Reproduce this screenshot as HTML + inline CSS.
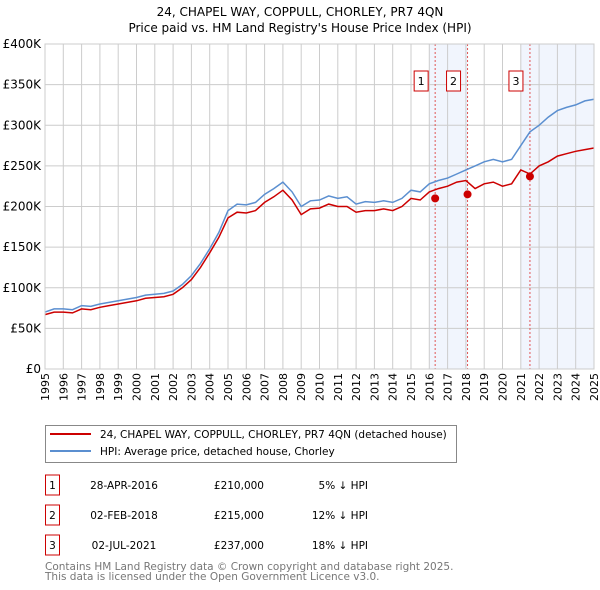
<!DOCTYPE html>
<html><head><meta charset="utf-8"><style>
body{margin:0;background:#fff;font-family:"Liberation Sans","DejaVu Sans",sans-serif;}
#wrap{position:relative;width:600px;height:590px;overflow:hidden;}
text{font-family:"DejaVu Sans","Liberation Sans",sans-serif;}
</style></head><body><div id="wrap">
<svg id="chart" width="600" height="590">
<text x="300" y="16" text-anchor="middle" font-size="12" fill="#000">24, CHAPEL WAY, COPPULL, CHORLEY, PR7 4QN</text>
<text x="300" y="32" text-anchor="middle" font-size="12" fill="#000">Price paid vs. HM Land Registry's House Price Index (HPI)</text>
<g id="plot"></g>
<rect x="45.5" y="425.5" width="411" height="37" fill="#fff" stroke="#888"/>
<line x1="50" y1="434" x2="91" y2="434" stroke="#cc0000" stroke-width="2"/>
<text x="100" y="438" font-size="10.5">24, CHAPEL WAY, COPPULL, CHORLEY, PR7 4QN (detached house)</text>
<line x1="50" y1="451" x2="91" y2="451" stroke="#5b8fd0" stroke-width="2"/>
<text x="100" y="455" font-size="10.5">HPI: Average price, detached house, Chorley</text>
<g id="table" font-size="10.5"></g>
<text x="45" y="570" font-size="10.5" fill="#777">Contains HM Land Registry data © Crown copyright and database right 2025.</text>
<text x="45" y="580" font-size="10.5" fill="#777">This data is licensed under the Open Government Licence v3.0.</text>
</svg>
<script>
const years=[1995,1995.5,1996,1996.5,1997,1997.5,1998,1998.5,1999,1999.5,2000,2000.5,2001,2001.5,2002,2002.5,2003,2003.5,2004,2004.5,2005,2005.5,2006,2006.5,2007,2007.5,2008,2008.5,2009,2009.5,2010,2010.5,2011,2011.5,2012,2012.5,2013,2013.5,2014,2014.5,2015,2015.5,2016,2016.5,2017,2017.5,2018,2018.5,2019,2019.5,2020,2020.5,2021,2021.5,2022,2022.5,2023,2023.5,2024,2024.5,2025];
const hpi=[70,74,74,73,78,77,80,82,84,86,88,91,92,93,96,104,115,130,148,168,195,203,202,205,215,222,230,218,200,207,208,213,210,212,203,206,205,207,205,210,220,218,228,232,235,240,245,250,255,258,255,258,275,292,300,310,318,322,325,330,332];
const price=[67,70,70,69,74,73,76,78,80,82,84,87,88,89,92,100,110,125,143,162,186,193,192,195,205,212,220,208,190,197,198,203,200,200,193,195,195,197,195,200,210,208,218,222,225,230,232,222,228,230,225,228,245,240,250,255,262,265,268,270,272];
const saleYears=[2016.32,2018.09,2021.5];
const saleValues=[210,215,237];
const saleLabels=["1","2","3"];
const saleDates=["28-APR-2016","02-FEB-2018","02-JUL-2021"];
const salePrices=["£210,000","£215,000","£237,000"];
const saleDiffs=["5% ↓ HPI","12% ↓ HPI","18% ↓ HPI"];
const yTicks=[0,50,100,150,200,250,300,350,400];
const yTickLabels=["£0","£50K","£100K","£150K","£200K","£250K","£300K","£350K","£400K"];
const L=45,R=594,T=44,B=369,NS="http://www.w3.org/2000/svg";
const xs=y=>L+(y-1995)/30*(R-L), ys=v=>B-v/400*(B-T);
const g=document.getElementById('plot');
function mk(t,a,p){const e=document.createElementNS(NS,t);for(const k in a)e.setAttribute(k,a[k]);(p||g).appendChild(e);return e;}
let e;
e=mk('rect',{x:xs(2016.02),y:T,width:xs(2018.09)-xs(2016.02),height:B-T,fill:'#eef3fc',opacity:0.8});


e=mk('rect',{x:xs(2021.0),y:T,width:R-xs(2021.0),height:B-T,fill:'#eef3fc',opacity:0.8});


for(let yr=1995;yr<=2025;yr++){
 e=mk('line',{x1:xs(yr),x2:xs(yr),y1:T,y2:B,stroke:'#ccc'});
 
 
 e=mk('text',{x:0,y:0,'font-size':11,'text-anchor':'end',transform:`translate(${xs(yr)+4},${B+4}) rotate(-90)`});
 e.textContent=yr;
 
 
}
yTicks.forEach((v,i)=>{
 e=mk('line',{x1:L,x2:R,y1:ys(v),y2:ys(v),stroke:'#ccc'});
 
 
 e=mk('text',{x:L-4,y:ys(v)+4,'font-size':12,'text-anchor':'end'});
 e.textContent=yTickLabels[i];
 
 
});
saleYears.forEach((y,i)=>{
 e=mk('line',{x1:xs(y),x2:xs(y),y1:T,y2:B,stroke:'#e05555','stroke-dasharray':'2,2'});
 
 
});
const pts=a=>a.map((v,i)=>xs(years[i]).toFixed(1)+','+ys(v).toFixed(1)).join(' ');
e=mk('polyline',{points:pts(hpi),fill:'none',stroke:'#5b8fd0','stroke-width':1.5});


e=mk('polyline',{points:pts(price),fill:'none',stroke:'#cc0000','stroke-width':1.5});


saleYears.forEach((y,i)=>{
 e=mk('circle',{cx:xs(y),cy:ys(saleValues[i]),r:4,fill:'#cc0000'});
 
 
 e=mk('rect',{x:xs(y)-21,y:T+27,width:14,height:20,fill:'#fff',stroke:'#cc0000'});
 
 
 e=mk('text',{x:xs(y)-14,y:T+41,'font-size':11,'text-anchor':'middle'});
 e.textContent=saleLabels[i];
 
 
});
e=mk('rect',{x:L,y:T,width:R-L,height:B-T,fill:'none',stroke:'#ccc'});
const tb=document.getElementById('table');
saleLabels.forEach((s,i)=>{
 const cy=485+i*30;
 e=mk('rect',{x:45.5,y:cy-10,width:14,height:20,fill:'#fff',stroke:'#cc0000'},tb);
 
 
 const cells=[[52.5,s,'middle'],[124,saleDates[i],'middle'],[264,salePrices[i],'end'],[368,saleDiffs[i],'end']];
 cells.forEach(c=>{
  e=mk('text',{x:c[0],y:cy+4,'text-anchor':c[2]},tb);
  e.textContent=c[1];
  
  
 });
});
</script>
</div></body></html>
